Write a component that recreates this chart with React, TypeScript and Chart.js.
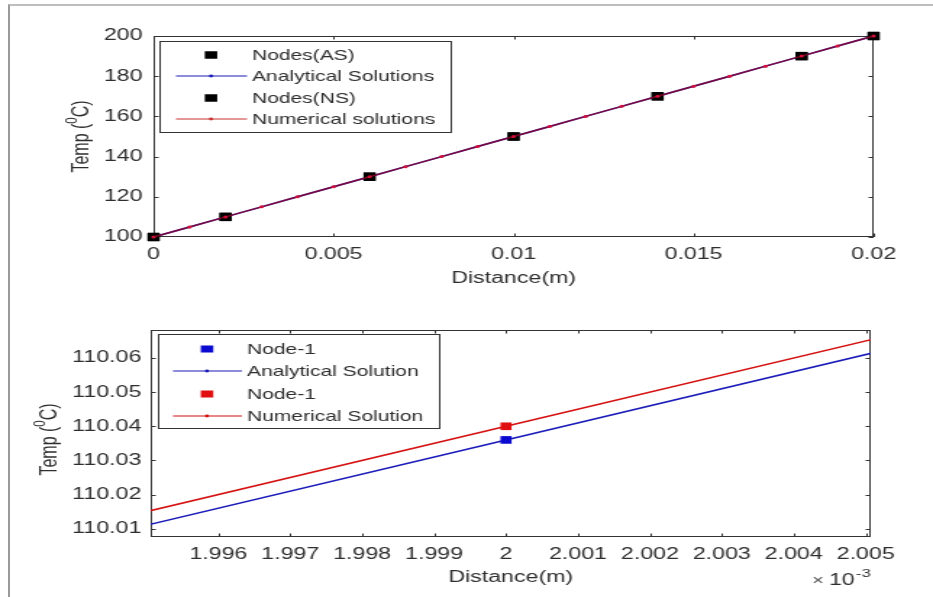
import React, { useEffect, useRef } from 'react';
import { Chart, registerables } from 'chart.js';

Chart.register(...registerables);

// ---------------- upper panel data ----------------
const topLineX = [0, 0.001, 0.002, 0.003, 0.004, 0.005, 0.006, 0.007, 0.008, 0.009, 0.01, 0.011, 0.012, 0.013, 0.014, 0.015, 0.016, 0.017, 0.018, 0.019, 0.02];
const topAnalytical = [100, 105, 110, 115, 120, 125, 130, 135, 140, 145, 150, 155, 160, 165, 170, 175, 180, 185, 190, 195, 200];
const topNumerical = [100, 105, 110, 115, 120, 125, 130, 135, 140, 145, 150, 155, 160, 165, 170, 175, 180, 185, 190, 195, 200];
const topNodeX = [0, 0.002, 0.006, 0.01, 0.014, 0.018, 0.02];
const topNodesAS = [100, 110, 130, 150, 170, 190, 200];
const topNodesNS = [100, 110, 130, 150, 170, 190, 200];
const topXTicks = [0, 0.005, 0.01, 0.015, 0.02];
const topXTickLabels = ['0', '0.005', '0.01', '0.015', '0.02'];
const topYTicks = [100, 120, 140, 160, 180, 200];
const topYTickLabels = ['100', '120', '140', '160', '180', '200'];

// ---------------- lower panel data (x in units of 1e-3 m) ----------------
const botLineX = [1.99, 2.0, 2.01];
const botAnalytical = [109.986, 110.036, 110.086];
const botNumerical = [109.99, 110.04, 110.09];
const botNodeX = [2.0];
const botNodeAS = [110.036];
const botNodeNS = [110.04];
const botXTicks = [1.996, 1.997, 1.998, 1.999, 2.0, 2.001, 2.002, 2.003, 2.004, 2.005];
const botXTickLabels = ['1.996', '1.997', '1.998', '1.999', '2', '2.001', '2.002', '2.003', '2.004', '2.005'];
const botYTicks = [110.01, 110.02, 110.03, 110.04, 110.05, 110.06];
const botYTickLabels = ['110.01', '110.02', '110.03', '110.04', '110.05', '110.06'];

// ---------------- layout / style ----------------
const PAGE_W = 933;
const CW = 644; // internal canvas width, stretched to PAGE_W like the original figure
const SX = PAGE_W / CW;
const FONT = "'Liberation Sans', Arial, Helvetica, sans-serif";
const TEXT = '#2e2e2e';
const AXIS = '#333333';
const BLUE = '#1a1ab8';
const RED = '#d41010';

const pts = (xs: number[], ys: number[]) => xs.map((x, i) => ({ x, y: ys[i] }));

const matlabPlugin = {
  id: 'matlabAxes',
  beforeDatasetsDraw(chart: any) {
    const { ctx, chartArea: a, scales } = chart;
    ctx.save();
    ctx.strokeStyle = AXIS;
    ctx.lineWidth = 1;
    ctx.strokeRect(a.left + 0.5, a.top + 0.5, a.right - a.left - 1, a.bottom - a.top - 1);
    const tl = 3.5;
    ctx.beginPath();
    scales.x.ticks.forEach((t: any) => {
      const p = Math.round(scales.x.getPixelForValue(t.value)) + 0.5;
      ctx.moveTo(p, a.bottom);
      ctx.lineTo(p, a.bottom - tl);
      ctx.moveTo(p, a.top);
      ctx.lineTo(p, a.top + tl);
    });
    scales.y.ticks.forEach((t: any) => {
      const p = Math.round(scales.y.getPixelForValue(t.value)) + 0.5;
      ctx.moveTo(a.left, p);
      ctx.lineTo(a.left + tl, p);
      ctx.moveTo(a.right, p);
      ctx.lineTo(a.right - tl, p);
    });
    ctx.stroke();
    ctx.restore();
  },
  afterDatasetsDraw(chart: any, _a: any, opts: any) {
    const { ctx, chartArea: a } = chart;
    const lg = opts.legend;
    if (lg) {
      ctx.save();
      const x0 = lg.x0 / SX, x1 = lg.x1 / SX;
      ctx.fillStyle = '#ffffff';
      ctx.fillRect(x0, lg.y0, x1 - x0, lg.y1 - lg.y0);
      ctx.strokeStyle = AXIS;
      ctx.lineWidth = 1;
      ctx.strokeRect(Math.round(x0) + 0.5, lg.y0 + 0.5, Math.round(x1 - x0), lg.y1 - lg.y0);
      chart.data.datasets.forEach((ds: any, i: number) => {
        const y = lg.rows[i];
        const col = ds.legendColor || ds.borderColor;
        if (ds.showLine) {
          ctx.strokeStyle = col;
          ctx.lineWidth = 1.2;
          ctx.beginPath();
          ctx.moveTo(lg.line[0] / SX, y);
          ctx.lineTo(lg.line[1] / SX, y);
          ctx.stroke();
          ctx.fillStyle = col;
          ctx.beginPath();
          ctx.arc(lg.marker / SX, y, 1.4, 0, Math.PI * 2);
          ctx.fill();
        } else {
          ctx.fillStyle = ds.backgroundColor;
          const w = 8.6, h = lg.mh;
          ctx.fillRect(lg.marker / SX - w / 2, y - h / 2, w, h);
        }
        ctx.fillStyle = TEXT;
        ctx.font = `14.5px ${FONT}`;
        ctx.textBaseline = 'middle';
        ctx.textAlign = 'left';
        ctx.fillText(ds.label, lg.text / SX, y + 0.5);
      });
      ctx.restore();
    }
    // y-axis title with superscript degree zero
    const yt = opts.yTitle;
    if (yt) {
      ctx.save();
      ctx.fillStyle = TEXT;
      ctx.textBaseline = 'middle';
      ctx.textAlign = 'left';
      const cy = (a.top + a.bottom) / 2 + yt.dy;
      ctx.translate(yt.x / SX, cy);
      ctx.rotate(-Math.PI / 2);
      const big = `16px ${FONT}`;
      const small = `11.5px ${FONT}`;
      ctx.font = big;
      const w1 = ctx.measureText(yt.pre).width;
      const w3 = ctx.measureText(yt.post).width;
      ctx.font = small;
      const w2 = ctx.measureText(yt.sup).width;
      let x = -(w1 + w2 + w3) / 2;
      ctx.font = big;
      ctx.fillText(yt.pre, x, 0);
      x += w1;
      ctx.font = small;
      ctx.fillText(yt.sup, x, -7);
      x += w2;
      ctx.font = big;
      ctx.fillText(yt.post, x, 0);
      ctx.restore();
    }
    const ex = opts.exponent;
    if (ex) {
      ctx.save();
      ctx.fillStyle = TEXT;
      ctx.textAlign = 'left';
      ctx.textBaseline = 'middle';
      ctx.font = `14px ${FONT}`;
      ctx.fillStyle = '#555555';
      ctx.fillText('\u00d7', ex.x / SX, ex.y + 1);
      ctx.fillStyle = TEXT;
      ctx.font = `16px ${FONT}`;
      ctx.fillText('10', (ex.x + 17) / SX, ex.y + 1);
      ctx.font = `11.5px ${FONT}`;
      ctx.fillText('-3', (ex.x + 44) / SX, ex.y - 6);
      ctx.restore();
    }
  },
};

type PanelCfg = {
  height: number;
  left: number; right: number; top: number; bottom: number;
  xMin: number; xMax: number; yMin: number; yMax: number;
  xTicks: number[]; xLabels: string[]; yTicks: number[]; yLabels: string[];
  xTickPad: number; yTickPad: number; xTitlePad: number;
  yTitle: any;
  datasets: any[];
  legend: any; exponent?: any;
};

function buildConfig(p: PanelCfg): any {
  const areaLeft = Math.round(p.left / SX);
  const areaRight = Math.round(p.right / SX);
  const tickFont = { family: FONT, size: 16 };
  return {
    type: 'scatter',
    data: { datasets: p.datasets },
    plugins: [matlabPlugin],
    options: {
      responsive: false,
      animation: false,
      devicePixelRatio: 1,
      events: [],
      layout: { padding: { left: 0, top: p.top, right: CW - areaRight, bottom: 0 } },
      plugins: {
        legend: { display: false },
        tooltip: { enabled: false },
        matlabAxes: { legend: p.legend, exponent: p.exponent, yTitle: p.yTitle },
      },
      scales: {
        x: {
          type: 'linear',
          min: p.xMin,
          max: p.xMax,
          grid: { display: false, drawTicks: false },
          border: { display: false },
          afterBuildTicks: (s: any) => { s.ticks = p.xTicks.map((v) => ({ value: v })); },
          afterFit: (s: any) => { s.height = p.height - p.bottom; },
          ticks: {
            color: TEXT, font: tickFont, padding: p.xTickPad, maxRotation: 0, autoSkip: false,
            callback: (_v: any, i: number) => p.xLabels[i],
          },
          title: {
            display: true, text: 'Distance(m)', color: TEXT, font: tickFont,
            padding: { top: 0, bottom: p.xTitlePad },
          },
        },
        y: {
          type: 'linear',
          min: p.yMin,
          max: p.yMax,
          grid: { display: false, drawTicks: false },
          border: { display: false },
          afterBuildTicks: (s: any) => { s.ticks = p.yTicks.map((v) => ({ value: v })); },
          afterFit: (s: any) => { s.width = areaLeft; },
          ticks: {
            color: TEXT, font: tickFont, padding: p.yTickPad, autoSkip: false,
            callback: (_v: any, i: number) => p.yLabels[i],
          },
          title: { display: false },
        },
      },
    },
  };
}

const topPanel: PanelCfg = {
  height: 300,
  left: 154, right: 873, top: 36, bottom: 237,
  xMin: 0, xMax: 0.02, yMin: 100, yMax: 200,
  xTicks: topXTicks, xLabels: topXTickLabels, yTicks: topYTicks, yLabels: topYTickLabels,
  xTickPad: 8, yTickPad: 7.6, xTitlePad: 11.4,
  yTitle: { x: 82, dy: 0, pre: 'Temp (', sup: '0', post: 'C)' },
  datasets: [
    {
      label: 'Nodes(AS)', data: pts(topNodeX, topNodesAS), showLine: false,
      pointStyle: 'rect', pointRadius: 5.9, backgroundColor: '#000000', borderColor: '#000000',
      pointBorderWidth: 0, order: 3, clip: false,
    },
    {
      label: 'Analytical Solutions', data: pts(topLineX, topAnalytical), showLine: true,
      borderColor: BLUE, borderWidth: 1.5, pointRadius: 1.2, pointBackgroundColor: BLUE,
      pointBorderWidth: 0, order: 2, clip: false,
    },
    {
      label: 'Nodes(NS)', data: pts(topNodeX, topNodesNS), showLine: false,
      pointStyle: 'rect', pointRadius: 5.9, backgroundColor: '#000000', borderColor: '#000000',
      pointBorderWidth: 0, order: 1, clip: false,
    },
    {
      label: 'Numerical solutions', data: pts(topLineX, topNumerical), showLine: true,
      borderColor: 'rgba(140,0,35,0.82)', legendColor: '#c83030', borderWidth: 1.5,
      pointRadius: 1.5, pointBackgroundColor: '#d8103a', pointBorderWidth: 0, order: 0, clip: false,
    },
  ],
  legend: { x0: 160, x1: 451, y0: 41, y1: 132, rows: [55, 76, 98, 119], line: [176, 247], marker: 211, text: 252, mh: 7.5 },
};

const botPanel: PanelCfg = {
  height: 297,
  left: 151, right: 871, top: 30, bottom: 237,
  xMin: 1.99506, xMax: 2.00507, yMin: 110.00757, yMax: 110.0682,
  xTicks: botXTicks, xLabels: botXTickLabels, yTicks: botYTicks, yLabels: botYTickLabels,
  xTickPad: 7.5, yTickPad: 6.4, xTitlePad: 9.4,
  yTitle: { x: 50, dy: 6, pre: 'Temp (', sup: '0', post: 'C)' },
  datasets: [
    {
      label: 'Node-1', data: pts(botNodeX, botNodeAS), showLine: false,
      pointStyle: 'rect', pointRadius: 5.4, backgroundColor: '#0a0ad0', borderColor: '#0a0ad0',
      pointBorderWidth: 0, order: 1, clip: false,
    },
    {
      label: 'Analytical Solution', data: pts(botLineX, botAnalytical), showLine: true,
      borderColor: BLUE, borderWidth: 1.5, pointRadius: 1.2, pointBackgroundColor: BLUE,
      pointBorderWidth: 0, order: 3, clip: 0,
    },
    {
      label: 'Node-1', data: pts(botNodeX, botNodeNS), showLine: false,
      pointStyle: 'rect', pointRadius: 5.4, backgroundColor: '#e01010', borderColor: '#e01010',
      pointBorderWidth: 0, order: 0, clip: false,
    },
    {
      label: 'Numerical Solution', data: pts(botLineX, botNumerical), showLine: true,
      borderColor: RED, borderWidth: 1.5, pointRadius: 1.2, pointBackgroundColor: RED,
      pointBorderWidth: 0, order: 2, clip: 0,
    },
  ],
  legend: { x0: 158, x1: 439, y0: 34, y1: 128, rows: [49, 71, 94, 116], line: [173, 242], marker: 207, text: 247, mh: 7 },
  exponent: { x: 812, y: 280 },
};

function Panel({ cfg, top }: { cfg: PanelCfg; top: number }) {
  const ref = useRef<HTMLCanvasElement | null>(null);
  useEffect(() => {
    const canvas = ref.current;
    if (!canvas) return;
    canvas.style.width = PAGE_W + 'px';
    canvas.style.height = cfg.height + 'px';
    const chart = new Chart(canvas, buildConfig(cfg));
    canvas.style.width = PAGE_W + 'px';
    canvas.style.height = cfg.height + 'px';
    return () => chart.destroy();
  }, [cfg]);
  return (
    <canvas
      ref={ref}
      width={CW}
      height={cfg.height}
      style={{ position: 'absolute', left: 0, top, width: PAGE_W, height: cfg.height, display: 'block' }}
    />
  );
}

export default function App() {
  return (
    <div style={{ position: 'fixed', left: 0, top: 0, width: PAGE_W, height: 597, background: '#ffffff', overflow: 'hidden' }}>
      <Panel cfg={topPanel} top={0} />
      <Panel cfg={botPanel} top={300} />
      <div
        style={{
          position: 'absolute', left: 8, top: 4, width: PAGE_W - 8, height: 597,
          borderTop: '2px solid #bdbdbd', borderLeft: '2px solid #9a9a9a', boxSizing: 'border-box',
          pointerEvents: 'none',
        }}
      />
    </div>
  );
}
